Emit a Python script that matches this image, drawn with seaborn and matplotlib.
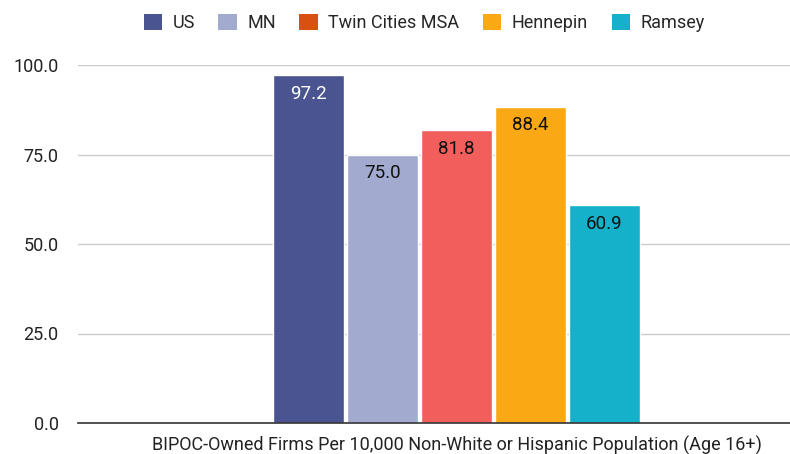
import matplotlib
matplotlib.use("Agg")
import matplotlib.pyplot as plt
from matplotlib.patches import Patch
import seaborn as sns
import pandas as pd

category = ["BIPOC-Owned Firms Per 10,000 Non-White or Hispanic Population (Age 16+)"]
series = ["US", "MN", "Twin Cities MSA", "Hennepin", "Ramsey"]
values = [97.2, 75.0, 81.8, 88.4, 60.9]
bar_colors = ["#4A5490", "#A2AACF", "#F15E5C", "#FAA813", "#15B0C9"]
legend_colors = ["#4A5490", "#A2AACF", "#D95110", "#FAA813", "#15B0C9"]
label_colors = ["white", "#111111", "#111111", "#111111", "#111111"]
yticks = [0, 25, 50, 75, 100]

df = pd.DataFrame({"cat": category * len(series), "series": series, "value": values})

sns.set_theme(style="white")
plt.rcParams["font.family"] = ["Roboto", "DejaVu Sans"]

fig = plt.figure(figsize=(7.9, 4.54), dpi=100)
ax = fig.add_axes([78 / 790, 31 / 454, 712 / 790, (423 - 65) / 454])

sns.barplot(data=df, x="cat", y="value", hue="series", hue_order=series,
            palette=bar_colors, width=0.8, gap=0.04, dodge=True,
            legend=False, ax=ax, saturation=1, errorbar=None)

ax.set_xlim(-0.8184, 0.7211)
ax.set_ylim(0, 100)
ax.set_yticks(yticks)
ax.set_yticklabels([f"{v:.1f}" for v in yticks], fontsize=13, color="#222222")
ax.tick_params(axis="y", length=9, width=1, color="#cccccc", pad=5)
ax.tick_params(axis="x", length=0, pad=9)
ax.set_xticks([0])
ax.set_xticklabels(category, fontsize=13, color="#222222")
ax.set_xlabel("")
ax.set_ylabel("")
ax.yaxis.grid(True, color="#cccccc", linewidth=1)
ax.set_axisbelow(True)
for s in ["top", "right", "left"]:
    ax.spines[s].set_visible(False)
ax.spines["bottom"].set_color("#333333")
ax.spines["bottom"].set_linewidth(1.2)

for cont, col in zip(ax.containers, label_colors):
    for bar in cont:
        h = bar.get_height()
        ax.annotate(f"{h:.1f}", (bar.get_x() + bar.get_width() / 2, h),
                    xytext=(0, -13.5), textcoords="offset points",
                    ha="center", va="center", fontsize=13.5, color=col)

handles = [Patch(facecolor=c, edgecolor="none") for c in legend_colors]
fig.legend(handles, series, loc="center", bbox_to_anchor=(0.537, 0.949), ncol=5,
           frameon=False, fontsize=13, handlelength=1.0, handleheight=1.0,
           columnspacing=1.3, handletextpad=0.6)

fig.savefig("out.png", dpi=100)
